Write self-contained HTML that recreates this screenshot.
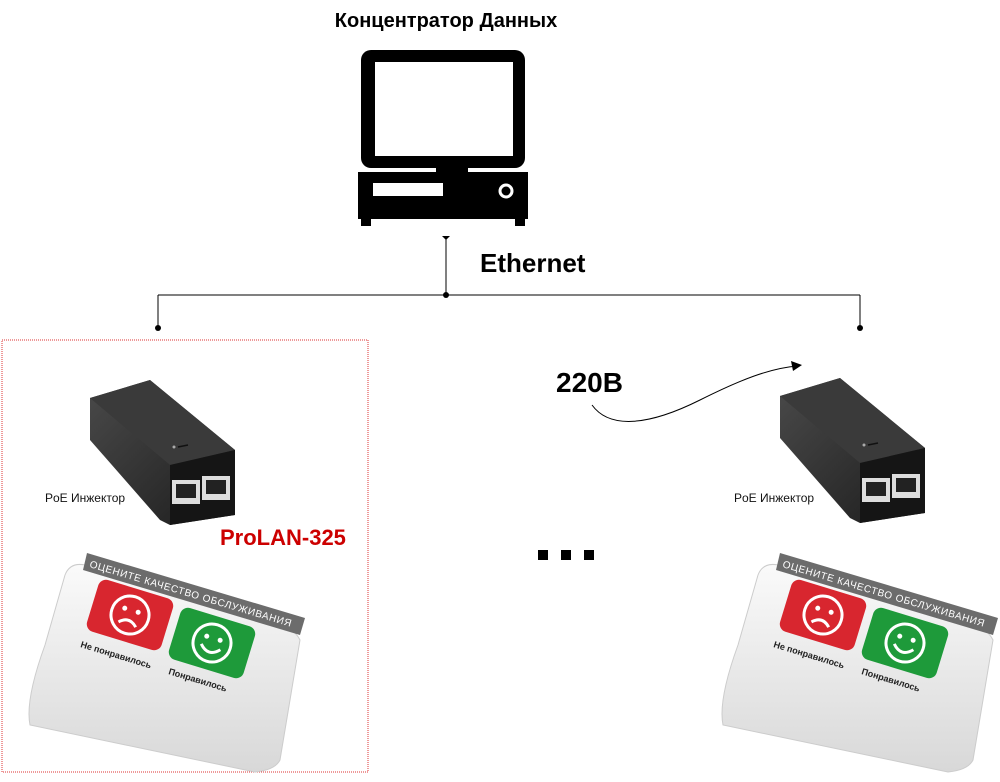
<!DOCTYPE html>
<html><head><meta charset="utf-8"><style>
body{margin:0;background:#fff;width:1000px;height:782px;overflow:hidden}
svg{display:block}
text{font-family:"Liberation Sans",sans-serif}
</style></head><body>
<svg width="1000" height="782" viewBox="0 0 1000 782">
<defs>
<linearGradient id="inj" x1="0" y1="0" x2="1" y2="1"><stop offset="0" stop-color="#4a4a4a"/><stop offset="1" stop-color="#1c1c1c"/></linearGradient>
<linearGradient id="dev" x1="0" y1="0" x2="0" y2="1"><stop offset="0" stop-color="#fafafa"/><stop offset="1" stop-color="#d8d8d8"/></linearGradient>
<g id="injector">
 <polygon points="0,18 60,0 145,70 145,135 80,145 70,140 0,60" fill="url(#inj)"/>
 <polygon points="60,0 145,70 80,85 0,18" fill="#3a3a3a"/>
 <polygon points="80,85 145,70 145,135 80,145" fill="#151515"/>
 <rect x="82" y="100" width="28" height="24" fill="#ddd"/><rect x="112" y="96" width="28" height="24" fill="#ddd"/>
 <rect x="86" y="104" width="20" height="14" fill="#222"/><rect x="116" y="100" width="20" height="14" fill="#222"/>
 <circle cx="84" cy="67" r="1.5" fill="#aaa"/>
 <line x1="88" y1="67" x2="98" y2="65" stroke="#111" stroke-width="1.5"/>
</g>
<g id="device">
 <path d="M20,95 Q0,150 5,175 L230,222 Q250,220 255,210 L275,90 Q270,80 260,78 L60,15 Q45,12 40,25 Z" fill="url(#dev)" stroke="#ccc"/>
 <polygon points="62,3 280,68 275,85 58,20" fill="#6c6c6c"/>
 <text x="64" y="17" font-size="10" fill="#fff" textLength="210" transform="rotate(16.5 64 17)">ОЦЕНИТЕ КАЧЕСТВО ОБСЛУЖИВАНИЯ</text>
 <g transform="rotate(17 105 65)"><rect x="66" y="38" width="78" height="54" rx="8" fill="#d8262f"/><circle cx="105" cy="65" r="19" fill="none" stroke="#fff" stroke-width="3"/><circle cx="98" cy="60" r="2.5" fill="#fff"/><circle cx="112" cy="60" r="2.5" fill="#fff"/><path d="M96,75 Q105,66 114,75" fill="none" stroke="#fff" stroke-width="3"/></g>
 <g transform="rotate(17 187 93)"><rect x="148" y="66" width="78" height="54" rx="8" fill="#1e9a3a"/><circle cx="187" cy="93" r="19" fill="none" stroke="#fff" stroke-width="3"/><circle cx="180" cy="88" r="2.5" fill="#fff"/><circle cx="194" cy="88" r="2.5" fill="#fff"/><path d="M177,97 Q187,108 197,97" fill="none" stroke="#fff" stroke-width="3"/></g>
 <text x="55" y="97" font-size="9" font-weight="bold" fill="#222" transform="rotate(17 55 97)">Не понравилось</text>
 <text x="143" y="124" font-size="9" font-weight="bold" fill="#222" transform="rotate(17 143 124)">Понравилось</text>
</g>
</defs>
<text x="446" y="27" font-size="20" font-weight="bold" text-anchor="middle" fill="#000">Концентратор Данных</text>
<rect x="361" y="50" width="164" height="118" rx="10" fill="#000"/>
<rect x="375" y="62" width="138" height="94" fill="#fff"/>
<rect x="436" y="166" width="32" height="8" fill="#000"/>
<rect x="358" y="172" width="170" height="47" fill="#000"/>
<rect x="361" y="217" width="10" height="9" fill="#000"/><rect x="515" y="217" width="10" height="9" fill="#000"/>
<rect x="373" y="183" width="70" height="13" fill="#fff"/>
<circle cx="506" cy="191" r="6" fill="none" stroke="#fff" stroke-width="3"/>
<g stroke="#000" stroke-width="1" fill="none">
<line x1="446" y1="236" x2="446" y2="295"/><line x1="158" y1="295" x2="860" y2="295"/>
<line x1="158" y1="295" x2="158" y2="328"/><line x1="860" y1="295" x2="860" y2="328"/>
<path d="M592,405 C610,430 650,425 700,400 C740,380 770,368 798,366"/>
</g>
<circle cx="446" cy="295" r="3"/><circle cx="158" cy="328" r="3"/><circle cx="860" cy="328" r="3"/>
<polygon points="442,236 450,236 446,240"/>
<polygon points="802,365 791,361 793,371"/>
<text x="480" y="272" font-size="26" font-weight="bold">Ethernet</text>
<text x="556" y="392" font-size="28" font-weight="bold">220В</text>
<rect x="538" y="550" width="10" height="10"/><rect x="561" y="550" width="10" height="10"/><rect x="584" y="550" width="10" height="10"/>
<rect x="2" y="340" width="366" height="432" fill="none" stroke="#d33" stroke-dasharray="1,1"/>
<use href="#injector" x="90" y="380"/>
<use href="#injector" x="780" y="378"/>
<text x="45" y="502" font-size="12" fill="#111">PoE Инжектор</text>
<text x="734" y="502" font-size="12" fill="#111">PoE Инжектор</text>
<text x="220" y="545" font-size="22" font-weight="bold" fill="#c00">ProLAN-325</text>
<use href="#device" x="25" y="550"/>
<use href="#device" x="718" y="550"/>
</svg>
</body></html>
